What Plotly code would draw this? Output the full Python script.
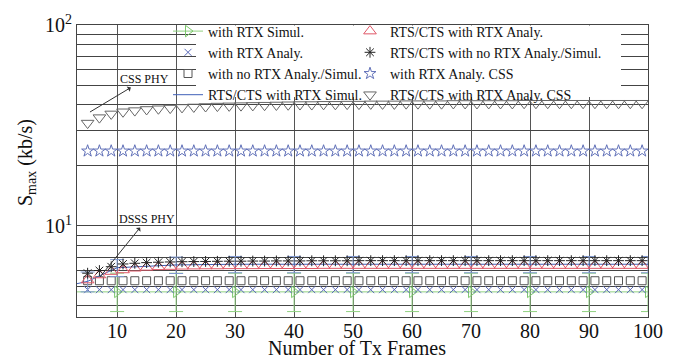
import plotly.graph_objects as go

# ---------------- data ----------------
x_odd = [5, 7, 9, 11, 13, 15, 17, 19, 21, 23, 25, 27, 29, 31, 33, 35, 37, 39, 41, 43, 45, 47, 49, 51,
         53, 55, 57, 59, 61, 63, 65, 67, 69, 71, 73, 75, 77, 79, 81, 83, 85, 87, 89, 91, 93, 95, 97, 99]

x_tens = [1, 10, 20, 30, 40, 50, 60, 70, 80, 90, 100]

# with RTX Simul. (DSSS)
y_rtx_sim = [4.70, 4.70, 4.70, 4.70, 4.70, 4.70, 4.70, 4.70, 4.70, 4.70, 4.70]
err_rtx_sim_plus = [1.12, 1.12, 1.12, 1.12, 1.12, 1.12, 1.12, 1.12, 1.12, 1.12, 1.12]
err_rtx_sim_minus = [0.95, 0.95, 0.95, 0.95, 0.95, 0.95, 0.95, 0.95, 0.95, 0.95, 0.95]

# with RTX Analy.
y_rtx_ana = [4.82] * 48

# with no RTX Analy./Simul.
y_nortx = [5.34] * 48

# RTS/CTS with RTX Simul.
x_rts_sim = [1, 5, 10, 20, 30, 40, 50, 60, 70, 80, 90, 100]
y_rts_sim = [5.0, 5.3, 6.2, 6.40, 6.45, 6.45, 6.45, 6.45, 6.45, 6.45, 6.45, 6.45]
err_rts_sim = [0.6, 0.6, 0.6, 0.6, 0.6, 0.6, 0.6, 0.6, 0.6, 0.6, 0.6, 0.6]

# RTS/CTS with RTX Analy.
y_rts_ana = [5.38, 5.70, 5.93, 6.04, 6.16, 6.22, 6.26, 6.28, 6.30, 6.31, 6.32, 6.32,
             6.33, 6.33, 6.33, 6.34, 6.34, 6.34, 6.34, 6.34, 6.35, 6.35, 6.35, 6.35,
             6.35, 6.35, 6.35, 6.35, 6.35, 6.35, 6.35, 6.35, 6.35, 6.35, 6.35, 6.35,
             6.35, 6.35, 6.35, 6.35, 6.35, 6.35, 6.35, 6.35, 6.35, 6.35, 6.35, 6.35]

# RTS/CTS with no RTX Analy./Simul.
y_rts_nortx = [5.82, 6.00, 6.27, 6.47, 6.52, 6.57, 6.60, 6.62, 6.64, 6.65, 6.66, 6.67,
               6.68, 6.68, 6.69, 6.69, 6.70, 6.70, 6.70, 6.71, 6.71, 6.71, 6.71, 6.72,
               6.72, 6.72, 6.72, 6.72, 6.72, 6.72, 6.72, 6.72, 6.72, 6.72, 6.72, 6.72,
               6.72, 6.72, 6.72, 6.72, 6.72, 6.72, 6.72, 6.72, 6.72, 6.72, 6.72, 6.72]

# with RTX Analy. CSS
y_rtx_css = [23.6] * 48

# RTS/CTS with RTX Analy. CSS
y_rts_css = [32.5, 34.6, 36.1, 37.0, 37.5, 38.0, 38.3, 38.6, 38.9, 39.1, 39.3, 39.5,
             39.6, 39.7, 39.8, 39.9, 40.0, 40.1, 40.2, 40.2, 40.3, 40.3, 40.4, 40.4,
             40.5, 40.5, 40.5, 40.6, 40.6, 40.6, 40.6, 40.7, 40.7, 40.7, 40.7, 40.7,
             40.7, 40.8, 40.8, 40.8, 40.8, 40.8, 40.8, 40.8, 40.8, 40.8, 40.8, 40.8]

x_tick_vals = [10, 20, 30, 40, 50, 60, 70, 80, 90, 100]
y_tick_vals = [4, 5, 6, 7, 8, 9, 10, 20, 30, 40, 50, 60, 70, 80, 90, 100]
y_tick_text = ["", "", "", "", "", "", "10<sup>1</sup>", "", "", "", "", "", "", "", "", "10<sup>2</sup>"]

FONT = "Liberation Serif"

fig = go.Figure()

# ---- column 1 (legend) ----
fig.add_trace(go.Scatter(
    x=x_tens, y=y_rtx_sim, mode="lines+markers", name="with RTX Simul.",
    line=dict(color="#8fd080", width=1),
    marker=dict(symbol="triangle-right-open", size=10, color="#7cc86c", line=dict(width=1, color="#7cc86c")),
    error_y=dict(type="data", symmetric=False, array=err_rtx_sim_plus, arrayminus=err_rtx_sim_minus,
                 color="#8fd080", thickness=1, width=7),
    legend="legend"))
fig.add_trace(go.Scatter(
    x=x_odd, y=y_rtx_ana, mode="markers", name="with RTX Analy.",
    marker=dict(symbol="x-thin-open", size=7, color="#5868b8", line=dict(width=1, color="#5868b8")),
    legend="legend"))
fig.add_trace(go.Scatter(
    x=x_odd, y=y_nortx, mode="markers", name="with no RTX Analy./Simul.",
    marker=dict(symbol="square-open", size=8, color="#555555", line=dict(width=1, color="#555555")),
    legend="legend"))
fig.add_trace(go.Scatter(
    x=x_rts_sim, y=y_rts_sim, mode="lines", name="RTS/CTS with RTX Simul.",
    line=dict(color="#4060b8", width=1),
    error_y=dict(type="data", array=err_rts_sim, color="#7f98d0", thickness=1, width=7),
    legend="legend"))

# ---- column 2 (legend2) ----
fig.add_trace(go.Scatter(
    x=x_odd, y=y_rts_ana, mode="markers", name="RTS/CTS with RTX Analy.",
    marker=dict(symbol="triangle-up-open", size=11, color="#e05868", line=dict(width=1, color="#e05868")),
    legend="legend2"))
fig.add_trace(go.Scatter(
    x=x_odd, y=y_rts_nortx, mode="markers", name="RTS/CTS with no RTX Analy./Simul.",
    marker=dict(symbol="asterisk-open", size=9, color="#222222", line=dict(width=1, color="#222222")),
    legend="legend2"))
fig.add_trace(go.Scatter(
    x=x_odd, y=y_rtx_css, mode="markers", name="with RTX Analy. CSS",
    marker=dict(symbol="star-open", size=9, color="#6070b8", line=dict(width=1, color="#6070b8")),
    legend="legend2"))
fig.add_trace(go.Scatter(
    x=x_odd, y=y_rts_css, mode="markers", name="RTS/CTS with RTX Analy. CSS",
    marker=dict(symbol="triangle-down-open", size=11, color="#666666", line=dict(width=1, color="#666666")),
    legend="legend2"))

W, H = 680, 356
ml, mr, mt, mb = 77, 32, 25, 39
pw, ph = W - ml - mr, H - mt - mb


def px_x(p):
    return (p - ml) / pw


def px_y(p):
    return (H - mb - p) / ph


legend_common = dict(font=dict(family=FONT, size=14, color="#111111"),
                     bgcolor="rgba(0,0,0,0)", borderwidth=0,
                     orientation="v", xanchor="left", yanchor="top", itemwidth=30)

fig.update_layout(
    width=W, height=H,
    margin=dict(l=ml, r=mr, t=mt, b=mb),
    plot_bgcolor="white", paper_bgcolor="white",
    font=dict(family=FONT, size=20, color="#111111"),
    legend=dict(x=px_x(168), y=px_y(15.5), **legend_common),
    legend2=dict(x=px_x(350), y=px_y(15.5), **legend_common),
    xaxis=dict(range=[3.2, 100], tickvals=x_tick_vals, showgrid=True, gridcolor="#555555", gridwidth=1,
               showline=True, linecolor="#444444", linewidth=1, mirror=True, zeroline=False,
               ticks="", ticklabelstandoff=-4, tickfont=dict(family=FONT, size=20, color="#111111")),
    yaxis=dict(type="log", range=[0.547, 2.0], tickvals=y_tick_vals, ticktext=y_tick_text,
               showgrid=True, gridcolor="#444444", gridwidth=1,
               showline=True, linecolor="#444444", linewidth=1, mirror=True, zeroline=False,
               ticks="", tickfont=dict(family=FONT, size=20, color="#111111")),
    showlegend=True,
)

# white backdrop behind legend (covers gridlines like the original boxed legend area)
fig.add_shape(type="rect", xref="paper", yref="paper",
              x0=px_x(196), x1=px_x(621), y0=px_y(97), y1=px_y(25.5),
              fillcolor="white", line=dict(width=0), layer="above")

# dashed ellipses marking PHY groups
fig.add_shape(type="circle", xref="x", yref="y", x0=3.9, x1=6.8, y0=1.219, y1=1.612,
              line=dict(color="#999999", width=1, dash="dash"), layer="above")
fig.add_shape(type="circle", xref="x", yref="y", x0=4.3, x1=8.6, y0=0.597, y1=0.896,
              line=dict(color="#999999", width=1, dash="dash"), layer="above")

fig.add_annotation(x=5.4, y=1.567, xref="x", yref="y", text="CSS PHY", showarrow=True,
                   ax=55, ay=-33, arrowhead=2, arrowsize=0.6, arrowwidth=1, arrowcolor="#333333",
                   arrowside="start", font=dict(family=FONT, size=12, color="#111111"))
fig.add_annotation(x=7.1, y=0.746, xref="x", yref="y", text="DSSS PHY", showarrow=True,
                   ax=47, ay=-58, arrowhead=2, arrowsize=0.6, arrowwidth=1, arrowcolor="#333333",
                   arrowside="start", font=dict(family=FONT, size=12, color="#111111"))

# axis titles
fig.add_annotation(xref="paper", yref="paper", x=px_x(26), y=px_y(163), text="S<sub>max</sub> (kb/s)",
                   textangle=-90, showarrow=False, font=dict(family=FONT, size=20, color="#111111"),
                   xanchor="center", yanchor="middle")
fig.add_annotation(xref="paper", yref="paper", x=px_x(357), y=px_y(359.5), text="Number of Tx Frames",
                   showarrow=False, font=dict(family=FONT, size=20, color="#111111"),
                   xanchor="center", yanchor="bottom", borderpad=0)

fig.write_html("out.html")
